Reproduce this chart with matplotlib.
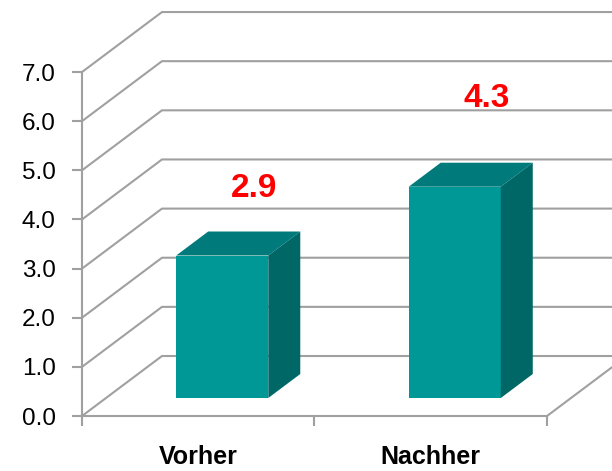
import matplotlib
matplotlib.use("Agg")
import matplotlib.pyplot as plt
from matplotlib.patches import Polygon

plt.rcParams['font.family'] = ['Liberation Sans', 'DejaVu Sans']

# chart data
categories = ["Vorher", "Nachher"]
values = [2.9, 4.3]
label_lift = [1.74, 2.17]   # how far the value labels sit above each bar
yticks = [0, 1, 2, 3, 4, 5, 6, 7]

# 3D look: depth of the floor/back wall in data units
DX = 0.344        # horizontal depth (category slots)
DY = 1.221        # vertical depth (value units)
BAR_W = 0.396
BAR_FRONT = 0.3   # bars occupy 30%..70% of the depth
BAR_BACK = 0.7

FRONT = "#009797"
TOP = "#007a7a"
SIDE = "#006767"
GRID = "#a0a0a0"

fig = plt.figure(figsize=(6.12, 4.71), dpi=100)
ax = fig.add_axes([0, 0, 1, 1])
ax.set_xlim(-0.3527, 2.2796)
ax.set_ylim(-1.119, 8.466)

# back wall gridlines + diagonals on the side wall
xr = ax.get_xlim()[1]
for v in yticks:
    ax.plot([0, DX, xr], [v, v + DY, v + DY], color=GRID, lw=1.5,
            zorder=1, solid_capstyle="butt")

# floor: right diagonal edge
frac = (xr - 2) / DX
ax.plot([2, xr], [0, frac * DY], color=GRID, lw=1.5, zorder=1)

# spines as the axis lines
for s in ["top", "right"]:
    ax.spines[s].set_visible(False)
ax.spines["left"].set_position(("data", 0))
ax.spines["left"].set_bounds(0, 7)
ax.spines["bottom"].set_position(("data", 0))
ax.spines["bottom"].set_bounds(0, 2)
for s in ["left", "bottom"]:
    ax.spines[s].set_color(GRID)
    ax.spines[s].set_linewidth(1.5)

ax.set_yticks(yticks)
ax.set_yticklabels([f"{v:.1f}" for v in yticks])
ax.tick_params(axis="y", direction="out", length=7, width=1.5, color=GRID,
               labelsize=17.5, pad=12)
ax.set_xticks([0, 1, 2])
ax.set_xticklabels([])
ax.set_xticks([0.5, 1.5], minor=True)
ax.set_xticklabels(categories, minor=True, fontsize=18, fontweight="bold")
ax.tick_params(axis="x", which="major", direction="out", length=7,
               width=1.5, color=GRID)
ax.tick_params(axis="x", which="minor", length=0, pad=21)

# bars
centers = [i + 0.5 + BAR_FRONT * DX for i in range(len(values))]
base = BAR_FRONT * DY
ddx = (BAR_BACK - BAR_FRONT) * DX
ddy = (BAR_BACK - BAR_FRONT) * DY
ax.bar(centers, values, width=BAR_W, bottom=base, color=FRONT, zorder=3)
for c, v, lift in zip(centers, values, label_lift):
    x0, x1 = c - BAR_W / 2, c + BAR_W / 2
    top = base + v
    ax.add_patch(Polygon([(x0, top), (x1, top), (x1 + ddx, top + ddy),
                          (x0 + ddx, top + ddy)], closed=True,
                         facecolor=TOP, edgecolor="none", zorder=3))
    ax.add_patch(Polygon([(x1, base), (x1 + ddx, base + ddy),
                          (x1 + ddx, top + ddy), (x1, top)], closed=True,
                         facecolor=SIDE, edgecolor="none", zorder=3))
    ax.text(c + ddx, v + lift, f"{v:.1f}", color="red", fontsize=24,
            fontweight="bold", ha="center", va="center", zorder=4)

fig.savefig("out.png", dpi=100)
